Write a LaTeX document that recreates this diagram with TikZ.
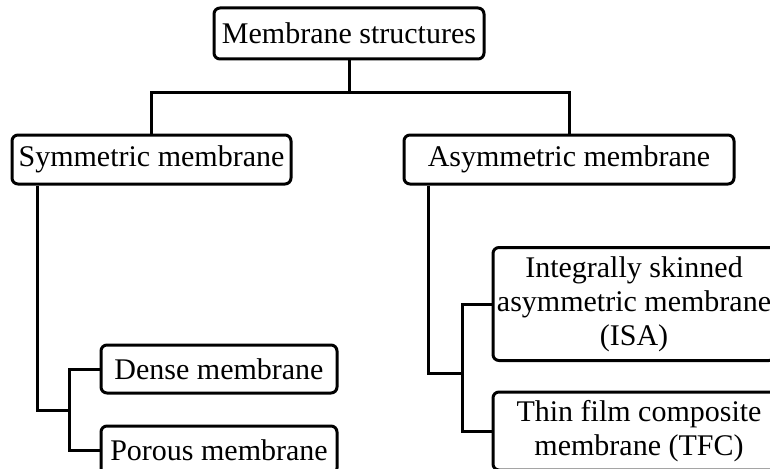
\documentclass[tikz,border=0pt]{standalone}
\usepackage{fontspec}
\setmainfont{Liberation Serif}
\usetikzlibrary{positioning}

\begin{document}
\begin{tikzpicture}[x=1pt,y=-1pt,
    box/.style={draw,line width=3pt,rounded corners=6pt,inner sep=1pt,align=center,
      font=\fontsize{30}{34}\selectfont},
    link/.style={line width=3pt}]
    \useasboundingbox (0,0) rectangle (770,468);
    \clip (0,0) rectangle (770,468);

    \node[box,minimum width=270pt,minimum height=51pt] (M) at (349,33.5) {Membrane structures};
    \node[box,minimum width=279pt,minimum height=49pt] (S) at (151.5,159.5) {Symmetric membrane};
    \node[box,minimum width=330pt,minimum height=49pt] (A) at (569,159.5) {Asymmetric membrane};

    \node[box,minimum width=236pt,minimum height=48pt] (D) at (219,369) {Dense membrane};
    \node[box,minimum width=236pt,minimum height=48pt] (P) at (219,450) {Porous membrane};

    \node[box,minimum width=282pt,minimum height=113pt] (I) at (634,304) {Integrally skinned\\asymmetric membrane\\(ISA)};
    \node[box,minimum width=292pt,minimum height=78pt] (T) at (639,431) {Thin film composite\\membrane (TFC)};

    % top split
    \draw[link] (M.south) -- ++(0,32) coordinate (mj);
    \draw[link] (S.north) |- (mj) -| (A.north);

    % symmetric branch
    \coordinate (ss) at ([xshift=27pt]S.south west);
    \coordinate (sj) at (69,410);
    \draw[link] (ss) |- (sj);
    \draw[link] (D.west) -| (sj) |- (P.west);

    % asymmetric branch
    \coordinate (as) at ([xshift=26pt]A.south west);
    \coordinate (aj) at (462,373);
    \draw[link] (as) |- (aj);
    \draw[link] (I.west) -| (aj) |- (T.west);
\end{tikzpicture}
\end{document}
